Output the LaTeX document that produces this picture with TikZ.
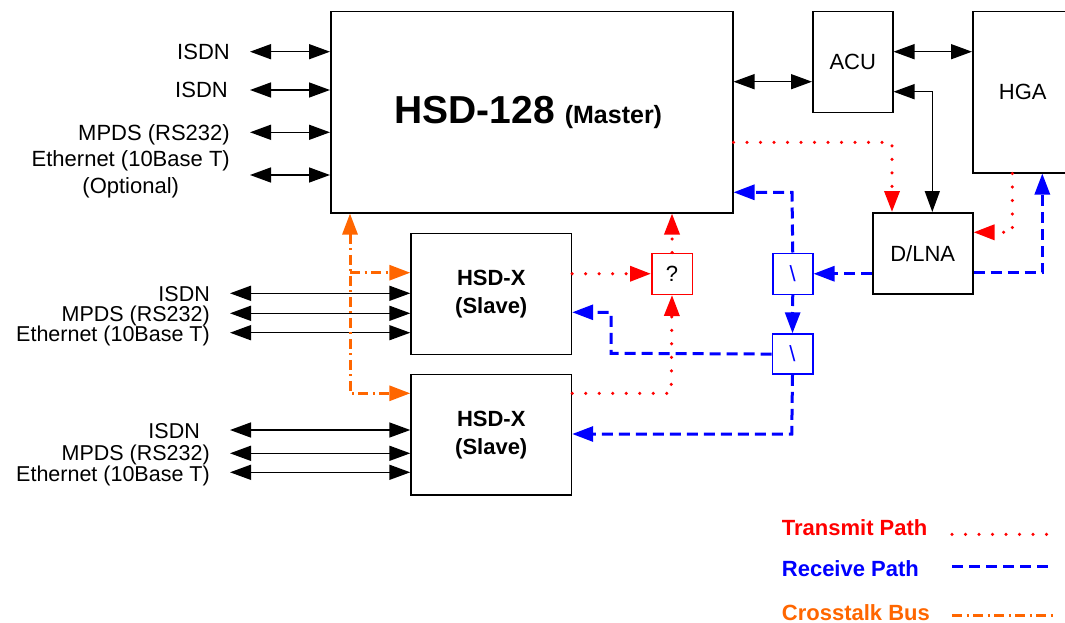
\documentclass[tikz,border=0pt]{standalone}
\usepackage{fontspec}
\setmainfont{Liberation Sans}
\usetikzlibrary{arrows.meta}
\definecolor{tred}{RGB}{255,0,0}
\definecolor{rblue}{RGB}{0,0,255}
\definecolor{xorange}{RGB}{255,102,0}
\tikzset{
  bigtip/.tip={Triangle[length=21pt,width=15pt]},
  box/.style={draw=black, line width=1.5pt, fill=none, inner sep=0pt, anchor=north west,
    font=\fontsize{22}{26}\selectfont},
  slavebox/.style={box, align=center, font=\fontsize{22}{28}\selectfont\bfseries},
  redbox/.style={box, draw=tred},
  bluebox/.style={box, draw=rblue, text=rblue},
  lab/.style={inner sep=0pt, anchor=base east, font=\fontsize{22}{27}\selectfont},
  slab/.style={lab, font=\fontsize{21.5}{26}\selectfont},
  wire/.style={line width=1.5pt, black},
  tx/.style={line width=3.5pt, tred, line cap=round, dash pattern=on 0pt off 13.5pt},
  rx/.style={line width=3pt, rblue, dash pattern=on 11pt off 6pt},
  xt/.style={line width=3pt, xorange, dash pattern=on 10pt off 4.5pt on 2pt off 4.5pt},
  legtext/.style={inner sep=0pt, anchor=base west, text depth=0pt, font=\fontsize{22}{26}\selectfont\bfseries},
}
\begin{document}
\begin{tikzpicture}[x=1pt,y=-1pt]
\useasboundingbox (0,0) rectangle (1065,623);

% boxes
\node[box, minimum width=402pt, minimum height=201pt] (master) at (330,11)
  {{\fontsize{39}{40}\selectfont\bfseries HSD-128}\hspace{10pt}{\fontsize{25}{28}\selectfont\bfseries (Master)}\hspace*{7pt}};
\node[box, minimum width=80pt, minimum height=101pt] (acu) at (812,11) {ACU};
\node[box, minimum width=100pt, minimum height=161pt] (hga) at (972,11) {HGA};
\node[box, minimum width=100pt, minimum height=81pt] (dlna) at (872,212) {D/LNA};
\node[redbox, minimum width=40.5pt, minimum height=41pt] (q) at (651,252.5) {?};
\node[bluebox, minimum width=40pt, minimum height=41pt] (sw1) at (772,252.5) {\textbackslash};
\node[bluebox, minimum width=40.5pt, minimum height=40pt] (sw2) at (771.5,333.3) {\textbackslash};
\node[slavebox, minimum width=160.4pt, minimum height=121pt] (slave1) at (410.3,232.7) {HSD-X\\(Slave)};
\node[slavebox, minimum width=160.4pt, minimum height=120.6pt] (slave2) at (410.3,373.7) {HSD-X\\(Slave)};

% master left interfaces
\node[lab] (l1) at (230,59.7) {ISDN};
\node[lab] (l2) at (228,98) {ISDN};
\node[lab] (l3) at (230,140.3) {MPDS (RS232)};
\node[lab, anchor=east, align=center] (l4) at (230,174.5) {Ethernet (10Base T)\\(Optional)};
\coordinate (a1) at (250,51.7);
\coordinate (a2) at (250,90);
\coordinate (a3) at (250,132.3);
\coordinate (a4) at (250,175);
\foreach \c in {a1,a2,a3,a4}
  \draw[wire, {bigtip}-{bigtip}] (\c) -- (master.west |- \c);

% slave 1 interfaces
\node[slab] (s11) at (210,301.3) {ISDN};
\node[slab] (s12) at (210,321.3) {MPDS (RS232)};
\node[slab] (s13) at (210,341) {Ethernet (10Base T)};
\coordinate (b1) at (230,293.3);
\coordinate (b2) at (230,313.3);
\coordinate (b3) at (230,332.7);
\foreach \c in {b1,b2,b3}
  \draw[wire, {bigtip}-{bigtip}] (\c) -- (slave1.west |- \c);

% slave 2 interfaces
\node[slab] (s21) at (200,438) {ISDN};
\node[slab] (s22) at (210,460.8) {MPDS (RS232)};
\node[slab] (s23) at (210,481) {Ethernet (10Base T)};
\coordinate (c1) at (230,430);
\coordinate (c2) at (230,453.3);
\coordinate (c3) at (230,472.3);
\foreach \c in {c1,c2,c3}
  \draw[wire, {bigtip}-{bigtip}] (\c) -- (slave2.west |- \c);

% black links
\coordinate (y1) at (0,81.7);
\draw[wire, {bigtip}-{bigtip}] (master.east |- y1) -- (acu.west |- y1);
\coordinate (y2) at (0,51.7);
\draw[wire, {bigtip}-{bigtip}] (acu.east |- y2) -- (hga.west |- y2);
\coordinate (p1) at (932.3,91.7);
\draw[wire, {bigtip}-{bigtip}] (acu.east |- p1) -- (p1) -- (p1 |- dlna.north);

% transmit (red dotted)
\coordinate (p2) at (892,142.3);
\draw[tx, -{bigtip}] (master.east |- p2) -- (p2) -- (p2 |- dlna.north);
\coordinate (p4) at (1012.3,232.3);
\draw[tx, -{bigtip}] (p4 |- hga.south) -- (p4) -- (dlna.east |- p4);
\draw[tx, -{bigtip}] (slave1.east |- q.west) -- (q.west);
\draw[tx, -{bigtip}] (q.north) -- (q.north |- master.south);
\coordinate (p6) at (671.25,393.3);
\draw[tx, -{bigtip}] (slave2.east |- p6) -- (p6) -- (q.south);

% receive (blue dashed)
\coordinate (p3) at (792,192.3);
\draw[rx, -{bigtip}] (sw1.north) -- (p3) -- (master.east |- p3);
\coordinate (p5) at (1042.3,272.7);
\draw[rx, -{bigtip}] (dlna.east |- p5) -- (p5) -- (p5 |- hga.south);
\draw[rx, -{bigtip}] (dlna.west |- sw1.east) -- (sw1.east);
\draw[rx, -{bigtip}] (sw1.south) -- (sw2.north);
\coordinate (p7) at (611,353.3);
\coordinate (p8) at (611,312.3);
\draw[rx, -{bigtip}] (sw2.west) -- (p7) -- (p8) -- (slave1.east |- p8);
\coordinate (p9) at (791.75,434);
\draw[rx, -{bigtip}] (sw2.south) -- (p9) -- (slave2.east |- p9);

% crosstalk (orange dash-dot)
\coordinate (p10) at (350,393.3);
\coordinate (p11) at (350,272.7);
\draw[xt, {bigtip}-{bigtip}] (p10 |- master.south) -- (p10) -- (slave2.west |- p10);
\draw[xt, -{bigtip}] (p11) -- (slave1.west |- p11);

% legend
\node[legtext, text=tred] (lg1) at (781.7,535.7) {Transmit Path};
\node[legtext, text=rblue] (lg2) at (781.7,576.7) {Receive Path};
\node[legtext, text=xorange] (lg3) at (781.7,620) {Crosstalk Bus};
\coordinate (e1a) at (952,534.3); \coordinate (e1b) at (1050,534.3);
\coordinate (e2a) at (952,566.7); \coordinate (e2b) at (1053,566.7);
\coordinate (e3a) at (952,615); \coordinate (e3b) at (1053,615);
\draw[tx] (e1a) -- (e1b);
\draw[rx] (e2a) -- (e2b);
\draw[xt] (e3a) -- (e3b);
\end{tikzpicture}
\end{document}
